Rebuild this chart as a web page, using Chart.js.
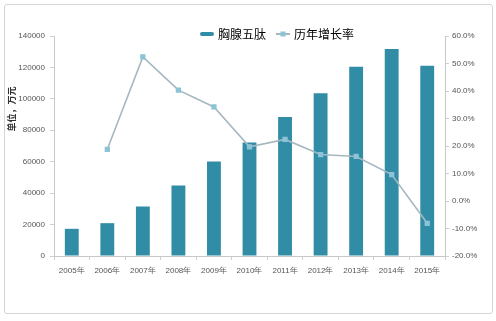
<!DOCTYPE html>
<html><head><meta charset="utf-8">
<script src="https://cdn.jsdelivr.net/npm/chart.js@4/dist/chart.umd.min.js"></script>
<style>
html,body{margin:0;padding:0;background:#fff;}
#wrap{position:relative;width:496px;height:321px;overflow:hidden;}
#frame{position:absolute;left:4px;top:4px;width:487px;height:308px;border:1px solid #d6d6d6;border-radius:3px;}
canvas{position:absolute;left:0;top:0;}
</style></head><body>
<div id="wrap"><div id="frame"></div><canvas id="c" width="496" height="321"></canvas></div>
<script>
const categories = ['2005年','2006年','2007年','2008年','2009年','2010年','2011年','2012年','2013年','2014年','2015年'];
const salesValues = [17300, 20900, 31500, 44800, 60100, 72200, 88400, 103600, 120400, 131700, 121000];
const growthRates = [null, 18.8, 52.4, 40.3, 34.2, 19.7, 22.4, 16.9, 16.2, 9.6, -8.1];
const leftTickValues = [0, 20000, 40000, 60000, 80000, 100000, 120000, 140000];
const leftTickLabels = ['0','20000','40000','60000','80000','100000','120000','140000'];
const rightTickValues = [-20, -10, 0, 10, 20, 30, 40, 50, 60];
const rightTickLabels = ['-20.0%','-10.0%','0.0%','10.0%','20.0%','30.0%','40.0%','50.0%','60.0%'];
const seriesNames = ['胸腺五肽', '历年增长率'];
const yTitle = '单位，万元';

const BAR = '#318ca5', LINE = '#a5b8c0', MARK = '#8cc3d6';
const CJK = '"Noto Sans CJK SC", "Microsoft YaHei", sans-serif';

function icon(kind){
  const c = document.createElement('canvas'); c.width = 16; c.height = 8;
  const x = c.getContext('2d');
  if (kind === 'bar') {
    x.fillStyle = BAR; x.beginPath();
    if (x.roundRect) x.roundRect(1,2,14,4,2); else x.rect(1,2,14,4);
    x.fill();
  } else {
    x.strokeStyle = LINE; x.lineWidth = 2; x.beginPath(); x.moveTo(1,4); x.lineTo(15,4); x.stroke();
    x.fillStyle = MARK; x.fillRect(5.5,1.5,5,5);
  }
  return c;
}
const barIcon = icon('bar'), lineIcon = icon('line');

const shiftPlugin = {
  id: 'shift',
  afterLayout(chart){
    const lg = chart.legend; if (!lg) return;
    lg.left += 30; lg.right += 30; lg.top += 14; lg.bottom += 14;
  },
  afterDraw(chart){
    const ctx = chart.ctx; ctx.save();
    ctx.translate(12, 109); ctx.rotate(-Math.PI/2);
    ctx.font = 'bold 9px ' + CJK; ctx.fillStyle = '#333';
    ctx.textAlign = 'center'; ctx.textBaseline = 'middle';
    ctx.fillText(yTitle, 0, 0); ctx.restore();
  }
};

const tickFont = {family: '"Liberation Sans", Arial, sans-serif', size: 8};
new Chart(document.getElementById('c'), {
  data: {
    labels: categories,
    datasets: [
      {type: 'line', label: seriesNames[1], data: growthRates, yAxisID: 'y2', order: 0,
       borderColor: LINE, borderWidth: 1.6, backgroundColor: MARK, pointStyle: 'rect',
       pointRadius: 2.6, pointBackgroundColor: MARK, pointBorderColor: MARK, tension: 0, spanGaps: false},
      {type: 'bar', label: seriesNames[0], data: salesValues, yAxisID: 'y', order: 1,
       backgroundColor: BAR, categoryPercentage: 1, barPercentage: 0.39}
    ]
  },
  options: {
    responsive: false, animation: false, devicePixelRatio: 1, events: [],
    layout: {padding: {top: 2, left: 0, right: 0, bottom: 0}},
    plugins: {
      tooltip: {enabled: false},
      legend: {
        position: 'top',
        labels: {
          usePointStyle: true, pointStyleWidth: 10, padding: 12,
          font: {family: CJK, size: 12}, color: '#222',
          generateLabels(){
            return [
              {text: seriesNames[0], pointStyle: barIcon, fillStyle: BAR, strokeStyle: BAR, lineWidth: 0, hidden: false, datasetIndex: 1},
              {text: seriesNames[1], pointStyle: lineIcon, fillStyle: MARK, strokeStyle: LINE, lineWidth: 0, hidden: false, datasetIndex: 0}
            ];
          }
        }
      }
    },
    scales: {
      x: {
        offset: true,
        grid: {display: true, offset: true, drawOnChartArea: false, drawTicks: true, tickLength: 4, color: '#d0d0d0'},
        border: {display: true, color: '#c8c8c8'},
        ticks: {font: tickFont, color: '#555', padding: 6, maxRotation: 0, autoSkip: false},
        afterFit(s){ s.height = 65; }
      },
      y: {
        position: 'left', min: 0, max: 140000,
        afterBuildTicks(s){ s.ticks = leftTickValues.map(v => ({value: v})); },
        grid: {drawOnChartArea: false, drawTicks: true, tickLength: 4, color: '#cfcfcf'},
        border: {display: true, color: '#c8c8c8'},
        ticks: {font: tickFont, color: '#555', padding: 5,
                callback(v){ const i = leftTickValues.indexOf(v); return i >= 0 ? leftTickLabels[i] : ''; }},
        afterFit(s){ s.width = 54; }
      },
      y2: {
        position: 'right', min: -20, max: 60,
        afterBuildTicks(s){ s.ticks = rightTickValues.map(v => ({value: v})); },
        grid: {drawOnChartArea: false, drawTicks: true, tickLength: 4, color: '#cfcfcf'},
        border: {display: true, color: '#c8c8c8'},
        ticks: {font: tickFont, color: '#555', padding: 3,
                callback(v){ const i = rightTickValues.indexOf(v); return i >= 0 ? rightTickLabels[i] : ''; }},
        afterFit(s){ s.width = 51; }
      }
    }
  },
  plugins: [shiftPlugin]
});
</script>
</body></html>
